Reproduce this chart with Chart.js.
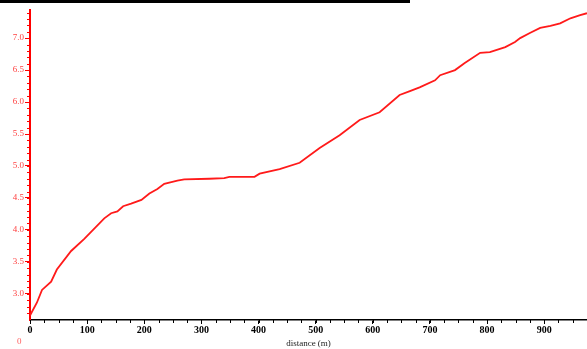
<!DOCTYPE html>
<html>
<head>
<meta charset="utf-8">
<script src="https://cdn.jsdelivr.net/npm/chart.js@4.4.0/dist/chart.umd.min.js"></script>
<style>
  html, body { margin: 0; padding: 0; background: #fff; }
  #wrap { position: relative; width: 587px; height: 349px; }
  #topbar { position: absolute; left: 0; top: 0; width: 410px; height: 3px; background: #000; }
  #extra { position: absolute; left: 17px; top: 336px; font: 9px "Liberation Serif", serif; color: #ff6060; }
</style>
</head>
<body>
<div id="wrap">
  <canvas id="chart" width="587" height="349"></canvas>
  <div id="topbar"></div>
  <div id="extra">0</div>
</div>
<script>
// distance along x, measured value along y
const distance = [0, 12, 21, 37, 47, 72, 95, 130, 142, 153, 163, 177, 195, 209, 223, 235, 258, 270, 314, 340, 349, 393, 402, 437, 472, 507, 542, 577, 612, 647, 665, 682, 709, 718, 744, 761, 788, 805, 832, 849, 858, 875, 893, 911, 928, 946, 963, 975];
const values = [2.66, 2.86, 3.06, 3.19, 3.38, 3.67, 3.86, 4.18, 4.26, 4.29, 4.37, 4.41, 4.47, 4.57, 4.64, 4.72, 4.77, 4.79, 4.80, 4.81, 4.83, 4.83, 4.88, 4.95, 5.05, 5.28, 5.48, 5.72, 5.84, 6.11, 6.17, 6.23, 6.34, 6.42, 6.50, 6.61, 6.77, 6.78, 6.86, 6.94, 7.00, 7.08, 7.16, 7.19, 7.23, 7.31, 7.36, 7.39];
const xTicks = [0, 100, 200, 300, 400, 500, 600, 700, 800, 900];
const yTicks = [3.0, 3.5, 4.0, 4.5, 5.0, 5.5, 6.0, 6.5, 7.0];
const xTitle = 'distance (m)';

const points = distance.map((d, i) => ({ x: d, y: values[i] }));

// small minor tick marks between the labelled ones
const minorTicks = {
  id: 'minorTicks',
  afterDraw(chart) {
    const ctx = chart.ctx;
    const xs = chart.scales.x, ys = chart.scales.y;
    ctx.save();
    ctx.lineWidth = 1;
    ctx.strokeStyle = '#000';
    for (let v = 0; v <= xs.max; v += 25) {
      const px = Math.round(xs.getPixelForValue(v)) + 0.5;
      ctx.beginPath();
      ctx.moveTo(px, xs.top);
      ctx.lineTo(px, xs.top + 3);
      ctx.stroke();
    }
    ctx.strokeStyle = '#ff0000';
    for (let v = 2.7; v <= ys.max; v += 0.1) {
      const py = Math.round(ys.getPixelForValue(v)) + 0.5;
      ctx.beginPath();
      ctx.moveTo(ys.right - 3, py);
      ctx.lineTo(ys.right, py);
      ctx.stroke();
    }
    ctx.restore();
  }
};

new Chart(document.getElementById('chart'), {
  type: 'line',
  data: {
    datasets: [{
      data: points,
      borderColor: '#ff1a1a',
      borderWidth: 1.8,
      pointRadius: 0,
      tension: 0,
      fill: false
    }]
  },
  options: {
    responsive: false,
    animation: false,
    layout: { padding: { top: 10, right: 0, left: 0, bottom: 0 } },
    plugins: { legend: { display: false }, tooltip: { enabled: false } },
    scales: {
      x: {
        type: 'linear',
        min: 0,
        max: 975,
        afterBuildTicks: (s) => { s.ticks = xTicks.map(v => ({ value: v })); },
        afterFit: (s) => { s.height = 29; },
        border: { color: '#000', width: 1.5 },
        grid: { drawOnChartArea: false, drawTicks: true, tickLength: 4, color: '#000' },
        ticks: {
          color: '#000',
          padding: 0,
          maxRotation: 0,
          font: { family: 'Liberation Serif', size: 10, weight: 'bold' }
        },
        title: {
          display: true,
          text: xTitle,
          color: '#222',
          padding: { top: 0, bottom: 0 },
          font: { family: 'Liberation Serif', size: 9 }
        }
      },
      y: {
        type: 'linear',
        min: 2.59,
        max: 7.44,
        afterBuildTicks: (s) => { s.ticks = yTicks.map(v => ({ value: v })); },
        afterFit: (s) => { s.width = 30; },
        border: { color: '#ff0000', width: 2 },
        grid: { drawOnChartArea: false, drawTicks: true, tickLength: 5, color: '#ff0000' },
        ticks: {
          color: '#ff4040',
          padding: 1,
          font: { family: 'Liberation Serif', size: 9 },
          callback: (v) => Number(v).toFixed(1)
        }
      }
    }
  },
  plugins: [minorTicks]
});
</script>
</body>
</html>
